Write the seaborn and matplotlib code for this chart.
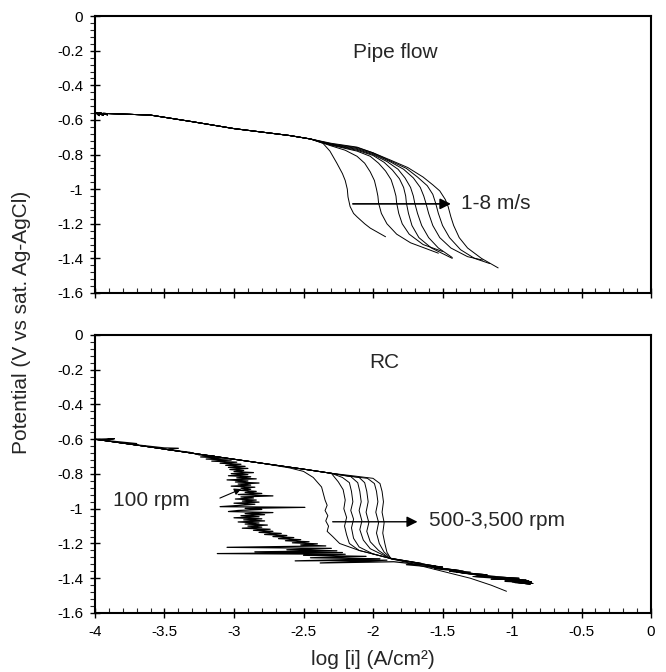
import numpy as np
import pandas as pd
import matplotlib
matplotlib.use("Agg")
import matplotlib.pyplot as plt
import seaborn as sns
from matplotlib.ticker import MultipleLocator

# ---------------- data ----------------
xtick_vals = [-4, -3.5, -3, -2.5, -2, -1.5, -1, -0.5, 0]
xtick_labels = ["-4", "-3.5", "-3", "-2.5", "-2", "-1.5", "-1", "-0.5", "0"]
ytick_vals = [0, -0.2, -0.4, -0.6, -0.8, -1.0, -1.2, -1.4, -1.6]
ytick_labels = ["0", "-0.2", "-0.4", "-0.6", "-0.8", "-1", "-1.2", "-1.4", "-1.6"]

# Pipe flow: shared cathodic branch start
pipe_head_x = [-4.0, -3.97, -3.99, -3.94, -3.97, -3.91, -3.94, -3.8, -3.6, -3.3, -3.0, -2.8, -2.6, -2.45]
pipe_head_y = [-0.553, -0.575, -0.557, -0.573, -0.558, -0.570, -0.562, -0.566, -0.572, -0.61, -0.65, -0.67, -0.69, -0.71]

pipe_1_x = [-2.36, -2.31, -2.26, -2.22, -2.20, -2.185, -2.18, -2.165, -2.14, -2.115, -2.06, -2.02, -1.91]
pipe_1_y = [-0.735, -0.78, -0.85, -0.91, -0.95, -1.0, -1.045, -1.10, -1.14, -1.16, -1.20, -1.225, -1.275]
pipe_2_x = [-2.3, -2.2, -2.115, -2.06, -2.02, -1.99, -1.975, -1.965, -1.96, -1.94, -1.90, -1.83, -1.73, -1.53]
pipe_2_y = [-0.75, -0.775, -0.81, -0.85, -0.90, -0.95, -1.00, -1.04, -1.08, -1.14, -1.20, -1.26, -1.31, -1.37]
pipe_3_x = [-2.3, -2.115, -2.02, -1.96, -1.91, -1.87, -1.85, -1.835, -1.83, -1.815, -1.79, -1.74, -1.64, -1.50]
pipe_3_y = [-0.746, -0.78, -0.81, -0.85, -0.895, -0.945, -0.995, -1.04, -1.08, -1.14, -1.20, -1.26, -1.32, -1.36]
pipe_4_x = [-2.3, -2.115, -2.0, -1.92, -1.86, -1.81, -1.78, -1.765, -1.76, -1.745, -1.72, -1.67, -1.58, -1.43]
pipe_4_y = [-0.744, -0.775, -0.805, -0.845, -0.89, -0.94, -0.99, -1.04, -1.08, -1.14, -1.21, -1.28, -1.34, -1.40]
pipe_5_x = [-2.3, -2.115, -2.0, -1.90, -1.82, -1.77, -1.73, -1.71, -1.70, -1.68, -1.65, -1.60, -1.53, -1.43]
pipe_5_y = [-0.742, -0.77, -0.80, -0.84, -0.885, -0.935, -0.99, -1.04, -1.08, -1.14, -1.21, -1.28, -1.34, -1.395]
pipe_6_x = [-2.3, -2.115, -2.0, -1.88, -1.78, -1.71, -1.66, -1.635, -1.62, -1.60, -1.57, -1.52, -1.44, -1.32, -1.21]
pipe_6_y = [-0.74, -0.765, -0.795, -0.84, -0.885, -0.935, -0.99, -1.04, -1.08, -1.14, -1.21, -1.28, -1.34, -1.39, -1.41]
pipe_7_x = [-2.3, -2.115, -2.0, -1.88, -1.76, -1.68, -1.61, -1.57, -1.55, -1.53, -1.50, -1.45, -1.37, -1.27, -1.16]
pipe_7_y = [-0.738, -0.76, -0.79, -0.835, -0.88, -0.93, -0.98, -1.03, -1.08, -1.14, -1.21, -1.28, -1.35, -1.40, -1.43]
pipe_8_x = [-2.3, -2.115, -2.0, -1.88, -1.75, -1.64, -1.57, -1.52, -1.48, -1.46, -1.44, -1.42, -1.38, -1.32, -1.22, -1.10]
pipe_8_y = [-0.735, -0.757, -0.79, -0.83, -0.875, -0.93, -0.975, -1.01, -1.06, -1.10, -1.16, -1.21, -1.28, -1.34, -1.40, -1.455]

# RC: shared start of the cathodic branch
rc_head_x = [-4.0, -3.6, -3.2, -2.8, -2.5, -2.3]
rc_head_y = [-0.600, -0.645, -0.692, -0.738, -0.772, -0.796]

# RC 100 rpm (noisy)
rc_100_x = [-4.0, -3.86, -3.95, -3.7, -3.75, -3.5, -3.40, -3.48, -3.32,
            -3.25, -3.14, -3.24, -3.08, -3.20, -3.02, -3.16, -2.98, -3.10, -2.95,
            -3.06, -2.92, -3.04, -2.90, -3.03, -2.93, -3.00, -2.86, -3.02, -2.90,
            -3.04, -2.88, -2.98, -2.84, -3.05, -2.90, -2.99, -2.82, -2.97, -2.88,
            -3.02, -2.85, -2.95, -2.88, -2.96, -2.84, -2.92, -2.80, -2.97, -2.72,
            -2.95, -2.86, -2.99, -2.84, -2.94, -2.82, -3.00, -2.85, -2.95, -3.10,
            -2.49, -2.92, -2.80, -2.97, -3.04, -2.72, -2.92, -2.78, -2.95, -2.82,
            -3.00, -2.80, -2.93, -2.78, -2.97, -2.82, -2.92, -2.76, -2.90, -2.80,
            -2.94, -2.74, -2.86, -2.72, -2.82, -2.66, -2.78, -2.62, -2.72, -2.57,
            -2.68, -2.52, -2.63, -2.46, -2.58, -2.40, -2.52, -2.34, -3.05, -2.30,
            -2.62, -2.26, -2.85, -2.22, -3.12, -2.20, -2.50, -2.05, -2.45, -1.95,
            -2.56, -1.90, -2.38, -1.85,
            -1.70, -1.76, -1.50, -1.56, -1.30, -1.36, -1.12, -1.20, -0.92, -1.05, -0.86]
rc_100_y = [-0.600, -0.597, -0.605, -0.625, -0.628, -0.650, -0.652, -0.660, -0.675,
            -0.690, -0.696, -0.702, -0.708, -0.714, -0.720, -0.726, -0.732, -0.738, -0.744,
            -0.750, -0.756, -0.762, -0.768, -0.774, -0.780, -0.786, -0.792, -0.798, -0.804,
            -0.810, -0.816, -0.822, -0.828, -0.834, -0.840, -0.846, -0.852, -0.858, -0.864,
            -0.870, -0.876, -0.882, -0.888, -0.894, -0.900, -0.906, -0.912, -0.918, -0.926,
            -0.932, -0.938, -0.944, -0.950, -0.956, -0.962, -0.968, -0.974, -0.980, -0.988,
            -0.992, -0.998, -1.004, -1.010, -1.016, -1.022, -1.028, -1.034, -1.040, -1.046,
            -1.052, -1.058, -1.064, -1.070, -1.076, -1.082, -1.088, -1.094, -1.100, -1.106,
            -1.112, -1.118, -1.124, -1.130, -1.136, -1.142, -1.148, -1.154, -1.160, -1.166,
            -1.172, -1.178, -1.184, -1.190, -1.196, -1.202, -1.208, -1.214, -1.222, -1.228,
            -1.236, -1.242, -1.248, -1.252, -1.258, -1.262, -1.268, -1.274, -1.282, -1.288,
            -1.300, -1.296, -1.312, -1.305,
            -1.318, -1.322, -1.340, -1.345, -1.365, -1.370, -1.390, -1.395, -1.410, -1.418, -1.425]

rc_500_x = [-2.6, -2.5, -2.43, -2.37, -2.345, -2.33, -2.345, -2.325, -2.34, -2.32, -2.33, -2.29,
            -2.24, -2.10, -1.95, -1.88]
rc_500_y = [-0.765, -0.785, -0.82, -0.875, -0.95, -0.98, -1.01, -1.04, -1.07, -1.10, -1.13, -1.16,
            -1.20, -1.24, -1.27, -1.285]
rc_1000_x = [-2.25, -2.215, -2.20, -2.21, -2.19, -2.205, -2.19, -2.17, -2.10, -1.88]
rc_1000_y = [-0.845, -0.89, -0.95, -1.0, -1.05, -1.10, -1.15, -1.20, -1.24, -1.285]
rc_1500_x = [-2.22, -2.17, -2.155, -2.145, -2.16, -2.14, -2.155, -2.14, -2.10, -2.0, -1.88]
rc_1500_y = [-0.82, -0.85, -0.90, -0.96, -1.01, -1.06, -1.11, -1.17, -1.22, -1.26, -1.285]
rc_2000_x = [-2.16, -2.11, -2.095, -2.085, -2.10, -2.08, -2.095, -2.07, -2.02, -1.88]
rc_2000_y = [-0.815, -0.85, -0.90, -0.96, -1.01, -1.07, -1.12, -1.18, -1.23, -1.285]
rc_2500_x = [-2.10, -2.06, -2.045, -2.035, -2.05, -2.03, -2.045, -2.02, -1.96, -1.88]
rc_2500_y = [-0.82, -0.85, -0.90, -0.96, -1.02, -1.08, -1.13, -1.19, -1.24, -1.285]
rc_3000_x = [-2.2, -2.04, -1.99, -1.975, -1.965, -1.98, -1.96, -1.975, -1.955, -1.92, -1.87]
rc_3000_y = [-0.81, -0.825, -0.855, -0.90, -0.96, -1.02, -1.08, -1.14, -1.20, -1.25, -1.285]
rc_3500_x = [-2.15, -2.0, -1.95, -1.935, -1.925, -1.935, -1.92, -1.93, -1.915, -1.90, -1.87]
rc_3500_y = [-0.81, -0.825, -0.855, -0.90, -0.96, -1.02, -1.08, -1.14, -1.20, -1.25, -1.29]

# converged tails after the limiting-current region
rc_tail_a_x = [-1.80, -1.65, -1.70, -1.50, -1.55, -1.35, -1.40, -1.20, -1.28, -1.05, -1.15, -0.90, -1.05, -0.86, -0.98, -0.85]
rc_tail_a_y = [-1.295, -1.315, -1.318, -1.335, -1.34, -1.36, -1.365, -1.385, -1.39, -1.40, -1.405, -1.41, -1.415, -1.42, -1.425, -1.43]
rc_tail_b_x = [-1.70, -1.50, -1.30, -1.15, -1.04]
rc_tail_b_y = [-1.32, -1.36, -1.40, -1.44, -1.475]
rc_tail_c_x = [-1.78, -1.55, -1.60, -1.38, -1.45, -1.18, -1.25, -0.95, -1.10, -0.88, -1.00, -0.87]
rc_tail_c_y = [-1.30, -1.33, -1.333, -1.355, -1.36, -1.38, -1.385, -1.40, -1.405, -1.415, -1.42, -1.435]

# ---------------- assemble tables ----------------
def curve_frame(name, xs, ys):
    return pd.DataFrame({"x": xs, "y": ys, "curve": name})

pipe_parts = [pipe_1_x, pipe_2_x, pipe_3_x, pipe_4_x, pipe_5_x, pipe_6_x, pipe_7_x, pipe_8_x]
pipe_parts_y = [pipe_1_y, pipe_2_y, pipe_3_y, pipe_4_y, pipe_5_y, pipe_6_y, pipe_7_y, pipe_8_y]
pipe_df = pd.concat([curve_frame(f"{i+1} m/s", pipe_head_x + px, pipe_head_y + py)
                     for i, (px, py) in enumerate(zip(pipe_parts, pipe_parts_y))], ignore_index=True)

rc_specs = [
    ("500", rc_head_x[:-2] + rc_500_x, rc_head_y[:-2] + rc_500_y, rc_tail_b_x, rc_tail_b_y),
    ("1000", rc_head_x + rc_1000_x, rc_head_y + rc_1000_y, rc_tail_a_x, rc_tail_a_y),
    ("1500", rc_head_x + rc_1500_x, rc_head_y + rc_1500_y, rc_tail_c_x, rc_tail_c_y),
    ("2000", rc_head_x + rc_2000_x, rc_head_y + rc_2000_y, rc_tail_a_x, rc_tail_a_y),
    ("2500", rc_head_x + rc_2500_x, rc_head_y + rc_2500_y, rc_tail_c_x, rc_tail_c_y),
    ("3000", rc_head_x + rc_3000_x, rc_head_y + rc_3000_y, rc_tail_a_x, rc_tail_a_y),
    ("3500", rc_head_x + rc_3500_x, rc_head_y + rc_3500_y, rc_tail_c_x, rc_tail_c_y),
]
rc_df = pd.concat([curve_frame(n, hx + tx, hy + ty) for n, hx, hy, tx, ty in rc_specs], ignore_index=True)
rc100_df = curve_frame("100", rc_100_x, rc_100_y)

# ---------------- plotting ----------------
sns.set_style("ticks")
plt.rcParams["font.family"] = ["Liberation Sans", "DejaVu Sans"]

fig = plt.figure(figsize=(6.66, 6.72), dpi=100)
ax1 = fig.add_axes([0.1426, 0.564, 0.835, 0.412])
ax2 = fig.add_axes([0.1426, 0.0878, 0.835, 0.4137])

sns.lineplot(data=pipe_df, x="x", y="y", units="curve", estimator=None, sort=False,
             color="black", linewidth=0.7, ax=ax1, legend=False)
sns.lineplot(data=rc_df, x="x", y="y", units="curve", estimator=None, sort=False,
             color="black", linewidth=0.7, ax=ax2, legend=False)
sns.lineplot(data=rc100_df, x="x", y="y", estimator=None, sort=False,
             color="black", linewidth=0.9, ax=ax2, legend=False)

for ax in (ax1, ax2):
    ax.set_xlim(-4, 0)
    ax.set_ylim(-1.6, 0)
    ax.set_xticks(xtick_vals)
    ax.set_xticklabels(xtick_labels)
    ax.set_yticks(ytick_vals)
    ax.set_yticklabels(ytick_labels)
    ax.xaxis.set_minor_locator(MultipleLocator(0.1))
    ax.yaxis.set_minor_locator(MultipleLocator(0.04))
    ax.tick_params(which="major", direction="inout", length=7, width=1.0,
                   labelsize=11, pad=5, color="black", labelcolor="black")
    ax.tick_params(axis="y", which="minor", direction="out", length=3.5, width=0.8)
    ax.tick_params(axis="x", which="minor", direction="in", length=3.5, width=0.8)
    ax.set_xlabel("")
    ax.set_ylabel("")
    for s in ax.spines.values():
        s.set_visible(True)
        s.set_linewidth(1.5)
        s.set_color("black")

ax1.tick_params(labelbottom=False)

# annotations - pipe flow
ax1.text(-1.84, -0.21, "Pipe flow", fontsize=15, ha="center", va="center")
ax1.annotate("", xy=(-1.42, -1.085), xytext=(-2.165, -1.085),
             arrowprops=dict(arrowstyle="-|>", color="black", lw=1.2, mutation_scale=16))
ax1.text(-1.37, -1.085, "1-8 m/s", fontsize=15, ha="left", va="center")

# annotations - RC
ax2.text(-1.92, -0.16, "RC", fontsize=15, ha="center", va="center")
ax2.text(-3.87, -0.95, "100 rpm", fontsize=15, ha="left", va="center")
ax2.annotate("", xy=(-2.93, -0.88), xytext=(-3.12, -0.945),
             arrowprops=dict(arrowstyle="-|>", color="black", lw=0.8, mutation_scale=10))
ax2.annotate("", xy=(-1.66, -1.075), xytext=(-2.31, -1.075),
             arrowprops=dict(arrowstyle="-|>", color="black", lw=1.0, mutation_scale=16))
ax2.text(-1.60, -1.07, "500-3,500 rpm", fontsize=15, ha="left", va="center")

fig.text(0.033, 0.52, "Potential (V vs sat. Ag-AgCl)", rotation=90, fontsize=15,
         ha="center", va="center")
fig.text(0.56, 0.018, "log [i] (A/cm²)", fontsize=15, ha="center", va="center")

fig.savefig("out.png", dpi=100)
